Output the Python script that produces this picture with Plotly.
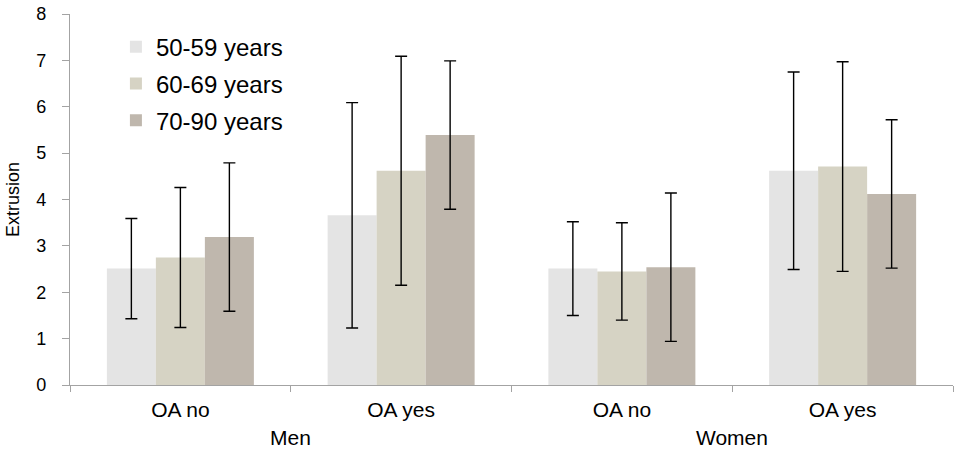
import plotly.graph_objects as go

sex = ["Men", "Men", "Women", "Women"]
oa = ["OA no", "OA yes", "OA no", "OA yes"]
series_names = ["50-59 years", "60-69 years", "70-90 years"]
colors = ["#E4E4E4", "#D6D3C4", "#BFB7AD"]

vals_50 = [2.51, 3.66, 2.51, 4.62]
vals_60 = [2.75, 4.62, 2.45, 4.71]
vals_70 = [3.19, 5.39, 2.54, 4.12]

err_50 = [1.08, 2.43, 1.01, 2.13]
err_60 = [1.51, 2.47, 1.05, 2.26]
err_70 = [1.60, 1.60, 1.60, 1.60]

values = [vals_50, vals_60, vals_70]
errors = [err_50, err_60, err_70]

keys = [f"{s} {o}" for s, o in zip(sex, oa)]
groups = ["Men", "Women"]

FONT = "Liberation Sans, Arial, sans-serif"

fig = go.Figure()
for i, name in enumerate(series_names):
    fig.add_trace(go.Bar(
        x=keys, y=values[i], name=name,
        marker=dict(color=colors[i], line=dict(width=0)),
        error_y=dict(type="data", array=errors[i], color="black",
                     thickness=1.4, width=6),
        legendgroup=name,
    ))

for j, g in enumerate(groups):
    fig.add_annotation(x=2 * j + 0.5, xref="x", y=0, yref="paper",
                       yanchor="middle", yshift=-52, text=g, showarrow=False,
                       font=dict(size=21))

fig.update_layout(
    width=955, height=449,
    margin=dict(l=70, r=2, t=14, b=64),
    paper_bgcolor="white", plot_bgcolor="white",
    font=dict(family=FONT, color="black", size=18),
    barmode="group", bargap=0.334, bargroupgap=0,
    showlegend=True,
    legend=dict(x=0.052, y=0.971, xanchor="left", yanchor="top",
                font=dict(size=24), bgcolor="rgba(0,0,0,0)",
                tracegroupgap=2.5, itemwidth=30),
    xaxis=dict(type="category", showline=True, linecolor="#A3A3A3",
               linewidth=1.4, ticks="outside", ticklen=6, tickcolor="#A3A3A3",
               tickson="boundaries", showgrid=False,
               tickmode="array", tickvals=keys, ticktext=oa,
               tickfont=dict(size=21), automargin=False, ticklabelstandoff=6),
    yaxis=dict(range=[0, 8], dtick=1, showline=True, linecolor="#A3A3A3",
               linewidth=1.4, ticks="outside", ticklen=7, tickcolor="#A3A3A3",
               showgrid=False, zeroline=False, tickfont=dict(size=18),
               automargin=False, ticklabelstandoff=12,
               title=dict(text="Extrusion", font=dict(size=18), standoff=11)),
)

fig.write_html("out.html", config={"displayModeBar": False},
               post_script="document.body.style.margin='0';document.body.style.padding='0';")
